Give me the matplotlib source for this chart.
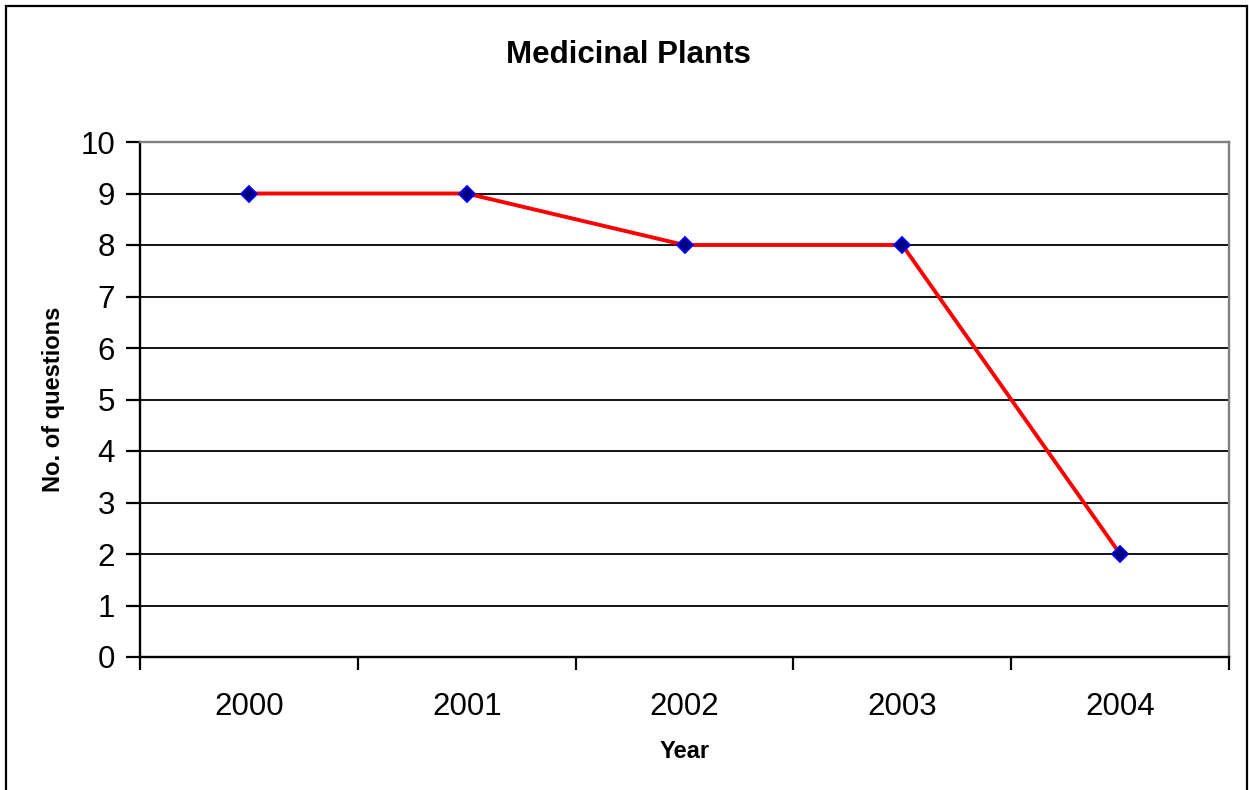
import numpy as np
import matplotlib.pyplot as plt
from matplotlib.patches import Rectangle

years = ['2000', '2001', '2002', '2003', '2004']
questions = [9, 9, 8, 8, 2]
y_ticks = list(range(0, 11))

plt.rcParams['font.family'] = ['Liberation Sans', 'DejaVu Sans']

fig = plt.figure(figsize=(12.49, 7.9), dpi=100)
ax = fig.add_axes([140/1249, 1-657/790, (1229-140)/1249, (657-142)/790])

x = np.arange(len(years))
# horizontal gridlines
for v in y_ticks[1:-1]:
    ax.axhline(v, color='black', lw=1.3, zorder=1)

ax.plot(x, questions, color='#FF0000', lw=2.8, zorder=3,
        marker='D', markersize=8, markerfacecolor='#000080',
        markeredgecolor='#0000FF', markeredgewidth=1.3)

ax.set_xlim(-0.5, len(years) - 0.5)
ax.set_ylim(0, 10)
ax.set_yticks(y_ticks)
ax.set_yticklabels([str(v) for v in y_ticks], fontsize=22.5)
ax.set_xticks(x)
ax.set_xticklabels(years, fontsize=22.5)
ax.tick_params(axis='x', which='major', length=0, pad=25)
ax.set_xticks(np.arange(-0.5, len(years)), minor=True)
ax.tick_params(axis='x', which='minor', length=9, width=1.6, direction='out')
ax.tick_params(axis='y', length=10, width=1.6, direction='out', pad=8)

for side in ['left', 'bottom']:
    ax.spines[side].set_color('black')
    ax.spines[side].set_linewidth(1.7)
for side in ['top', 'right']:
    ax.spines[side].set_color('#808080')
    ax.spines[side].set_linewidth(1.7)

ax.set_xlabel('Year', fontsize=17, fontweight='bold', labelpad=13)
ax.set_ylabel('No. of questions', fontsize=17, fontweight='bold', labelpad=11)
fig.text(628/1249, 1-55/790, 'Medicinal Plants', fontsize=22.5,
         fontweight='bold', ha='center', va='center')

# outer chart border
fig.patches.append(Rectangle((6/1249, -0.02), (1247-6)/1249, 1.02-6/790,
                             transform=fig.transFigure, fill=False,
                             edgecolor='black', lw=1.6))

fig.savefig('out.png', dpi=100)
